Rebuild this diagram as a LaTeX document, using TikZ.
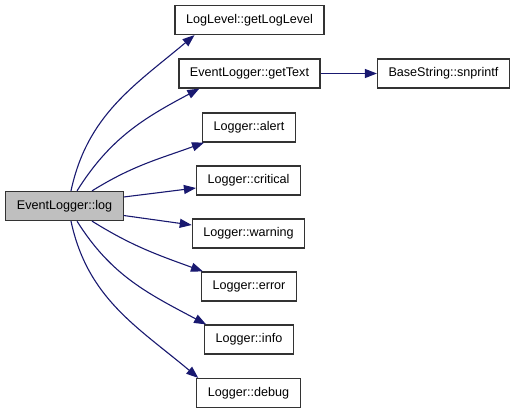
\documentclass[tikz,border=0pt]{standalone}
\usepackage{fontspec}
\setmainfont{Liberation Sans}
\usetikzlibrary{arrows.meta}
\definecolor{edgeblue}{HTML}{191970}
\definecolor{callgray}{HTML}{BFBFBF}

\begin{document}
\begin{tikzpicture}[x=1pt, y=1pt,
    fn/.style={draw=black!80, line width=1.2pt, fill=white, minimum height=29pt, inner xsep=11pt, font=\fontsize{12.6}{15}\selectfont},
    call/.style={draw=edgeblue, line width=1.1pt, -{Triangle[length=12pt, width=9pt]}}]
    \useasboundingbox (0,0) rectangle (517,-413);
    \node(log)[fn, fill=callgray] at (64.5,-206) {EventLogger::log};
    \node(getLogLevel)[fn] at (249.5,-20) {LogLevel::getLogLevel};
    \node(getText)[fn] at (249.5,-73.5) {EventLogger::getText};
    \node(snprintf)[fn] at (443.5,-73.5) {BaseString::snprintf};
    \node(alert)[fn] at (249,-127.5) {Logger::alert};
    \node(critical)[fn] at (248.5,-180.5) {Logger::critical};
    \node(warning)[fn] at (248.5,-233.5) {Logger::warning};
    \node(error)[fn] at (249,-286.5) {Logger::error};
    \node(info)[fn] at (249,-339.5) {Logger::info};
    \node(debug)[fn] at (248.5,-393) {Logger::debug};
    \draw[call] ([xshift=6.5pt]log.north) to[out=78, in=220] ([xshift=20pt]getLogLevel.south west);
    \draw[call] ([xshift=12.5pt]log.north) to[out=58, in=208] ([xshift=21pt]getText.south west);
    \draw[call] ([xshift=27.5pt]log.north) to[out=32, in=200] ([xshift=2pt]alert.south west);
    \draw[call] ([yshift=9pt]log.east) -- ([yshift=-7.5pt]critical.west);
    \draw[call] ([yshift=-9.5pt]log.east) -- ([yshift=8.5pt]warning.west);
    \draw[call] ([xshift=27.5pt]log.south) to[out=-32, in=160] ([xshift=2pt]error.north west);
    \draw[call] ([xshift=12.5pt]log.south) to[out=-58, in=152] ([xshift=2pt]info.north west);
    \draw[call] ([xshift=6.5pt]log.south) to[out=-78, in=140] ([xshift=2pt]debug.north west);
    \draw[call] (getText) -- (snprintf);
\end{tikzpicture}
\end{document}
